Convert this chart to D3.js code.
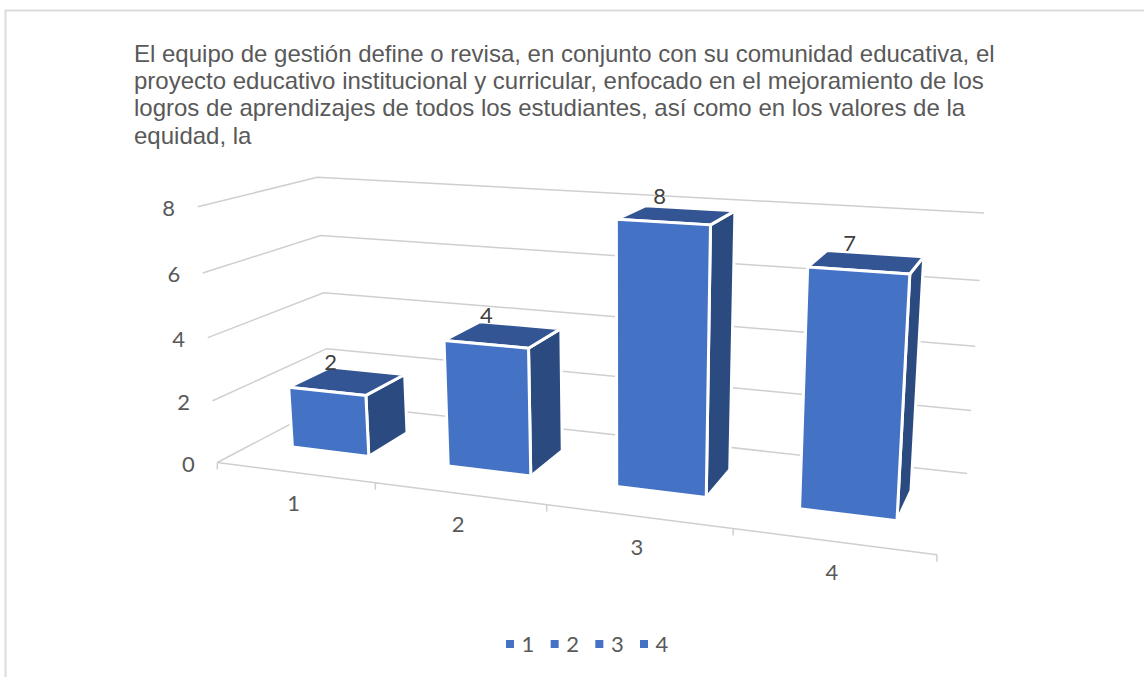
<!DOCTYPE html>
<html>
<head>
<meta charset="utf-8">
<script src="https://cdn.jsdelivr.net/npm/d3@7"></script>
<style>
    html, body { margin: 0; padding: 0; background: #fff; }
    svg { display: block; }
</style>
</head>
<body>
<div id="chartContainer"></div>
<script>
const categories = ['1', '2', '3', '4'];
const values = [2, 4, 8, 7];
const valueTicks = [0, 2, 4, 6, 8];
const titleLines = [
    'El equipo de gestión define o revisa, en conjunto con su comunidad educativa, el',
    'proyecto educativo institucional y curricular, enfocado en el mejoramiento de los',
    'logros de aprendizajes de todos los estudiantes, así como en los valores de la',
    'equidad, la',
];

const svgWidth = 1144;
const svgHeight = 677;

const svg = d3.select('#chartContainer').append('svg').attr('width', svgWidth).attr('height', svgHeight);

// frame runs off the right and bottom of the picture
svg.append('path')
    .attr('d', 'M5.5,677V10.5H1144')
    .attr('fill', 'none')
    .attr('stroke', '#dcdcdc')
    .attr('stroke-width', 2);

// scales work in a unit box: x along categories, y up, z into the screen
const xScale = d3.scaleBand().domain(categories).range([0, 1]).paddingInner(0.5).paddingOuter(0.25);
const xOuter = d3.scaleBand().domain(categories).range([0, 1]);
const yScale = d3.scaleLinear().domain([0, 8]).range([0, 1]);
const zScale = d3.scaleLinear().domain([0, 1]).range([0.31, 0.69]);

// where the corners of the box land on screen, used to fit the camera
const calibration = [
    [0, 0, 0, 217, 462],
    [1, 0, 0, 937, 555],
    [0, 0, 1, 330, 404],
    [1, 0, 1, 967, 473],
    [0, 1, 0, 198, 207],
    [0, 1, 1, 317, 177],
    [1, 1, 1, 984, 213],
];

function solve(A, b) {
    const n = b.length;
    const m = A.map((row, i) => [...row, b[i]]);
    for (let i = 0; i < n; i++) {
        let pivot = i;
        for (let r = i + 1; r < n; r++) if (Math.abs(m[r][i]) > Math.abs(m[pivot][i])) pivot = r;
        [m[i], m[pivot]] = [m[pivot], m[i]];
        for (let r = 0; r < n; r++) {
            if (r === i) continue;
            const f = m[r][i] / m[i][i];
            for (let c = i; c <= n; c++) m[r][c] -= f * m[i][c];
        }
    }
    return m.map((row, i) => row[n] / row[i]);
}

function fitCamera(points) {
    const rows = [];
    const rhs = [];
    points.forEach(([X, Y, Z, px, py]) => {
        const x = px / 1000;
        const y = py / 1000;
        rows.push([X, Y, Z, 1, 0, 0, 0, 0, -x * X, -x * Y, -x * Z]);
        rhs.push(x);
        rows.push([0, 0, 0, 0, X, Y, Z, 1, -y * X, -y * Y, -y * Z]);
        rhs.push(y);
    });
    const AtA = d3.range(11).map((i) => d3.range(11).map((j) => d3.sum(rows, (r) => r[i] * r[j])));
    const Atb = d3.range(11).map((i) => d3.sum(rows, (r, k) => r[i] * rhs[k]));
    return solve(AtA, Atb);
}

const cam = fitCamera(calibration);

function project(X, Y, Z) {
    const w = cam[8] * X + cam[9] * Y + cam[10] * Z + 1;
    return [
        (1000 * (cam[0] * X + cam[1] * Y + cam[2] * Z + cam[3])) / w,
        (1000 * (cam[4] * X + cam[5] * Y + cam[6] * Z + cam[7])) / w,
    ];
}

const line = d3.line();
const chart = svg.append('g');

// gridlines: side wall then back wall
chart.selectAll('.grid')
    .data(valueTicks)
    .enter()
    .append('path')
    .attr('class', 'grid')
    .attr('d', (d) => line([project(0, yScale(d), 0), project(0, yScale(d), 1), project(1, yScale(d), 1)]))
    .attr('fill', 'none')
    .attr('stroke', '#cfcfcf')
    .attr('stroke-width', 1.5);

// floor front edge and its ticks
chart.append('path')
    .attr('d', line([project(0, 0, 0), project(1, 0, 0)]))
    .attr('fill', 'none')
    .attr('stroke', '#cfcfcf')
    .attr('stroke-width', 1.5);

const tickPositions = [0, ...categories.map((c) => xOuter(c) + xOuter.bandwidth())];
chart.selectAll('.tick')
    .data(tickPositions)
    .enter()
    .append('path')
    .attr('class', 'tick')
    .attr('d', (d) => {
        const p = project(d, 0, 0);
        return line([p, [p[0], p[1] + 7]]);
    })
    .attr('fill', 'none')
    .attr('stroke', '#cfcfcf')
    .attr('stroke-width', 1.5);

const barData = categories.map((c, i) => ({ label: c, value: values[i] }));

// bars
const bars = chart.selectAll('.bar')
    .data(barData)
    .enter()
    .append('g')
    .attr('class', 'bar');

function corners(d) {
    const x0 = xScale(d.label);
    const x1 = x0 + xScale.bandwidth();
    const h = yScale(d.value);
    const z0 = zScale(0);
    const z1 = zScale(1);
    return {
        front: [project(x0, 0, z0), project(x1, 0, z0), project(x1, h, z0), project(x0, h, z0)],
        side: [project(x1, 0, z0), project(x1, 0, z1), project(x1, h, z1), project(x1, h, z0)],
        top: [project(x0, h, z0), project(x1, h, z0), project(x1, h, z1), project(x0, h, z1)],
    };
}

const faces = [
    { key: 'side', color: '#2a4a80' },
    { key: 'top', color: '#335593' },
    { key: 'front', color: '#4472c4' },
];

faces.forEach((face) => {
    bars.append('path')
        .attr('d', (d) => line(corners(d)[face.key]) + 'Z')
        .attr('fill', face.color)
        .attr('stroke', '#fff')
        .attr('stroke-width', 3)
        .attr('stroke-linejoin', 'round');
});

// data labels sit up and left of the middle of the top face
const labelAnchor = (d) => project(xScale(d.label) + xScale.bandwidth() / 2, yScale(d.value), 0.5);

chart.selectAll('.value-label')
    .data(barData)
    .enter()
    .append('text')
    .attr('class', 'value-label')
    .attr('x', (d) => labelAnchor(d)[0] - 17)
    .attr('y', (d) => labelAnchor(d)[1] - 11)
    .attr('text-anchor', 'middle')
    .attr('font-family', 'Lato')
    .attr('font-size', 22)
    .attr('fill', '#404040')
    .text((d) => d.value);

// value axis labels
chart.selectAll('.y-label')
    .data(valueTicks)
    .enter()
    .append('text')
    .attr('class', 'y-label')
    .attr('x', (d) => project(0, yScale(d), 0)[0] - 29)
    .attr('y', (d) => project(0, yScale(d), 0)[1] + 9)
    .attr('text-anchor', 'middle')
    .attr('font-family', 'Lato')
    .attr('font-size', 22)
    .attr('fill', '#595959')
    .text((d) => d);

// category labels
chart.selectAll('.x-label')
    .data(categories)
    .enter()
    .append('text')
    .attr('class', 'x-label')
    .attr('x', (d) => project(xOuter(d) + xOuter.bandwidth() / 2, 0, 0)[0] - 1)
    .attr('y', (d) => project(xOuter(d) + xOuter.bandwidth() / 2, 0, 0)[1] + 39)
    .attr('text-anchor', 'middle')
    .attr('font-family', 'Lato')
    .attr('font-size', 22)
    .attr('fill', '#595959')
    .text((d) => d);

// title
svg.append('g')
    .selectAll('text')
    .data(titleLines)
    .enter()
    .append('text')
    .attr('x', 134)
    .attr('y', (d, i) => 61.5 + i * 27.4)
    .attr('font-family', '"Liberation Sans"')
    .attr('font-size', 24)
    .attr('fill', '#595959')
    .text((d) => d);

// legend
const legendScale = d3.scalePoint().domain(categories).range([510, 644]);
const legend = svg.selectAll('.legend')
    .data(categories)
    .enter()
    .append('g')
    .attr('class', 'legend')
    .attr('transform', (d) => `translate(${legendScale(d)}, 644)`);

legend.append('rect')
    .attr('x', -4)
    .attr('y', -4)
    .attr('width', 8)
    .attr('height', 8)
    .attr('fill', '#4472c4');

legend.append('text')
    .attr('x', 18)
    .attr('y', 8)
    .attr('text-anchor', 'middle')
    .attr('font-family', 'Lato')
    .attr('font-size', 22)
    .attr('fill', '#595959')
    .text((d) => d);
</script>
</body>
</html>
